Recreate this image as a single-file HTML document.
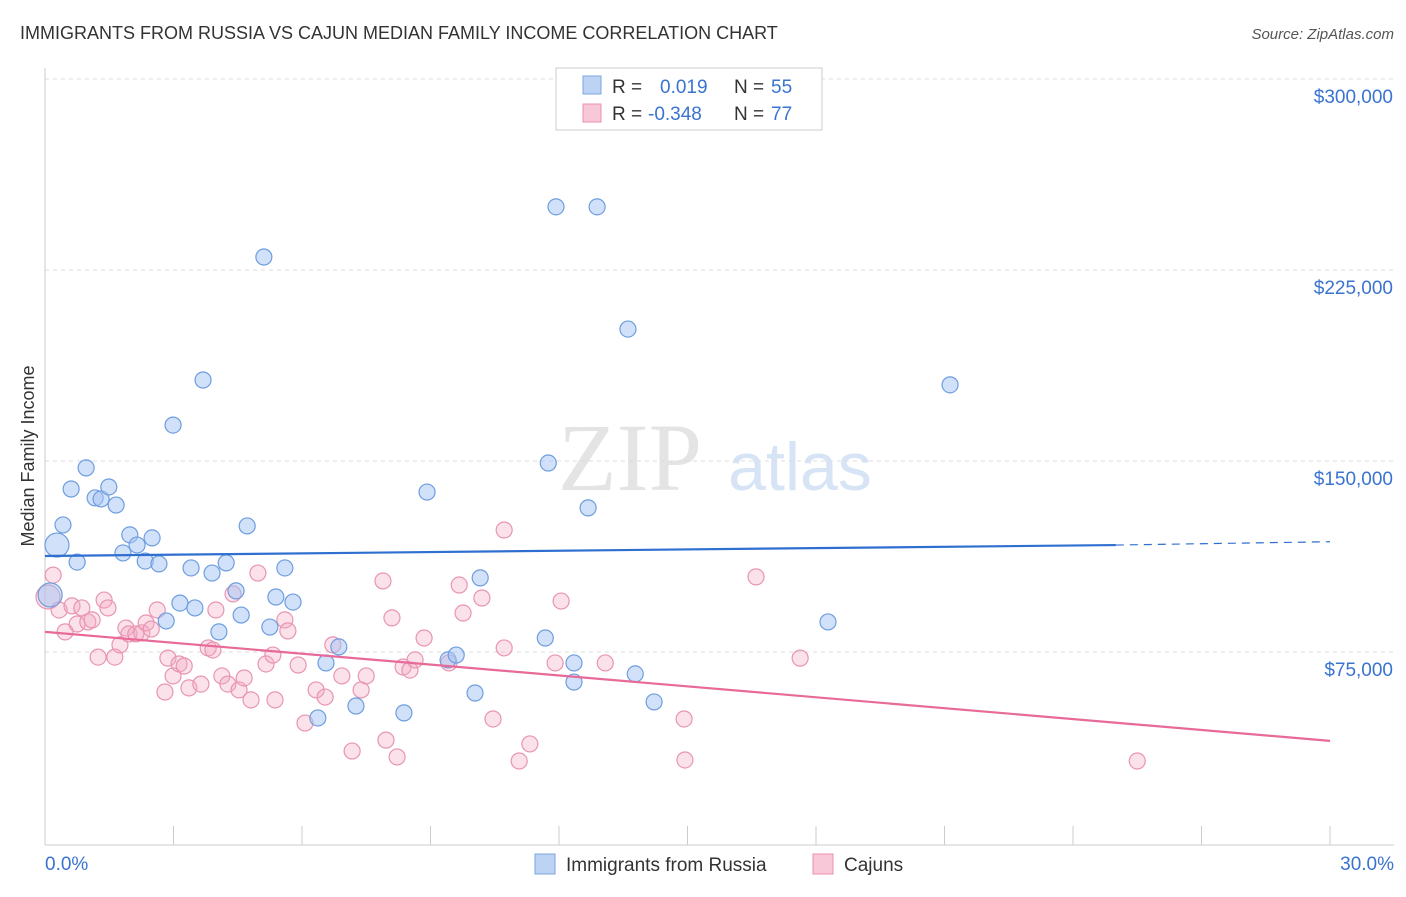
<!DOCTYPE html>
<html><head><meta charset="utf-8"><style>
body{margin:0;background:#fff;font-family:"Liberation Sans",sans-serif;}
</style></head><body>
<svg id="c" width="1406" height="892" xmlns="http://www.w3.org/2000/svg" style="font-family:'Liberation Sans',sans-serif">
<text x="20" y="39" font-size="18" fill="#333">IMMIGRANTS FROM RUSSIA VS CAJUN MEDIAN FAMILY INCOME CORRELATION CHART</text>
<text x="1394" y="39" font-size="15" fill="#555" text-anchor="end" font-style="italic">Source: ZipAtlas.com</text>
<text x="630" y="490" font-size="96" fill="#e4e4e4" font-family="Liberation Serif" text-anchor="middle">ZIP</text>
<text x="800" y="490" font-size="68" fill="#d6e4f6" text-anchor="middle">atlas</text>
<g id="grid"></g><g id="axes"></g><g id="marks"></g>
<text transform="translate(34,456) rotate(-90)" font-size="18" fill="#333" text-anchor="middle">Median Family Income</text>
<g>
<rect x="556" y="68" width="266" height="62" fill="#fff" stroke="#ccc"/>
<rect x="583" y="76" width="18" height="18" fill="#bcd3f4" stroke="#7ba4e0"/>
<text x="612" y="93" font-size="19" fill="#333">R = </text><text x="660" y="93" font-size="19" fill="#3a73d0">0.019</text>
<text x="734" y="93" font-size="19" fill="#333">N = </text><text x="771" y="93" font-size="19" fill="#3a73d0">55</text>
<rect x="583" y="104" width="18" height="18" fill="#f8c8d8" stroke="#e890ae"/>
<text x="612" y="120" font-size="19" fill="#333">R = </text><text x="648" y="120" font-size="19" fill="#3a73d0">-0.348</text>
<text x="734" y="120" font-size="19" fill="#333">N = </text><text x="771" y="120" font-size="19" fill="#3a73d0">77</text>
</g>
<g>
<rect x="535" y="854" width="20" height="20" fill="#bcd3f4" stroke="#7ba4e0"/>
<text x="566" y="871" font-size="19" fill="#333">Immigrants from Russia</text>
<rect x="813" y="854" width="20" height="20" fill="#f8c8d8" stroke="#e890ae"/>
<text x="844" y="871" font-size="19" fill="#333">Cajuns</text>
</g>
</svg>
<script>
const yTicks=[75000,150000,225000,300000];
const yTickLabels=["$75,000","$150,000","$225,000","$300,000"];
const xTicks=[0,3,6,9,12,15,18,21,24,27,30];
const bluePct=[0.12,0.28,0.42,0.61,0.75,0.96,1.17,1.31,1.49,1.66,1.82,1.98,2.15,2.34,2.50,2.66,2.83,2.99,3.15,3.41,3.50,3.69,3.90,4.06,4.23,4.46,4.58,4.72,5.11,5.25,5.39,5.60,5.79,6.37,6.56,6.86,7.26,8.38,8.92,9.41,9.60,10.04,10.16,11.68,11.75,11.93,12.35,12.35,12.68,12.89,13.61,13.78,14.22,18.28,21.13];
const blueVal=[97.4,117.0,124.9,139.0,110.3,147.3,135.5,135.1,139.8,132.7,113.9,121.0,117.0,110.7,119.8,109.6,87.2,164.1,94.2,108.0,92.3,181.8,106.0,82.9,110.0,99.0,89.5,124.5,230.1,84.8,96.6,108.0,94.6,49.1,70.7,77.0,53.8,51.1,137.8,71.9,73.8,58.9,104.1,80.5,149.2,249.8,70.7,63.2,131.6,249.8,201.8,66.4,55.4,86.8,179.9];
const pinkPct=[0.07,0.19,0.33,0.47,0.63,0.75,0.86,1.00,1.10,1.24,1.38,1.47,1.63,1.75,1.89,1.96,2.12,2.26,2.36,2.48,2.62,2.80,2.87,2.99,3.13,3.25,3.36,3.64,3.81,3.92,3.99,4.13,4.27,4.39,4.53,4.65,4.81,4.97,5.16,5.37,5.32,5.60,5.67,5.91,6.07,6.33,6.54,6.72,6.93,7.17,7.38,7.50,7.89,7.96,8.10,8.22,8.36,8.52,8.64,8.85,9.43,9.67,9.76,10.20,10.46,10.72,11.07,11.32,10.72,11.91,12.05,13.08,14.92,14.94,16.60,17.63,25.50];
const pinkVal=[96.6,105.2,91.5,82.9,93.1,86.0,92.3,86.8,87.6,73.0,95.4,92.3,73.0,77.8,84.4,82.1,82.1,82.5,86.4,84.0,91.5,59.3,72.6,65.6,70.3,69.5,60.9,62.4,76.6,75.8,91.5,65.6,62.4,97.8,60.1,64.8,56.2,106.0,70.3,56.2,73.8,87.6,83.3,69.9,47.1,60.1,57.3,77.8,65.6,36.1,60.1,65.6,102.9,40.4,88.4,33.8,69.1,67.9,71.9,80.5,70.7,101.3,90.3,96.2,48.7,76.6,32.2,38.9,122.9,70.7,95.0,70.7,48.7,32.6,104.5,72.6,32.2];
const blueTrend=[112.7,117.0,118.3]; // at 0%, 25%, 30%
const pinkTrend=[82.9,40.1]; // at 0%, 30%
const NS="http://www.w3.org/2000/svg";
const X=p=>45+p/30*1285;
const Y=v=>843-v/300000*764;
const YK=v=>Y(v*1000);
function mk(t,a,parent){const e=document.createElementNS(NS,t);for(const k in a)e.setAttribute(k,a[k]);document.getElementById(parent).appendChild(e);return e;}
yTicks.forEach((t,i)=>{
 const g=mk('line',{x1:45,x2:1394,y1:Y(t),y2:Y(t),stroke:'#ddd','stroke-dasharray':'4,4'},'grid');
 
 
 const l=mk('text',{x:1393,y:Y(t)+24,'font-size':19,fill:'#3a73d0','text-anchor':'end'},'axes');
 l.textContent=yTickLabels[i];
 
 
});
const ax=mk('line',{x1:45,x2:1394,y1:845,y2:845,stroke:'#ccc'},'axes');


const ay=mk('line',{x1:45,x2:45,y1:68,y2:845,stroke:'#ccc'},'axes');


xTicks.forEach(t=>{const e=mk('line',{x1:X(t),x2:X(t),y1:826,y2:845,stroke:'#ccc'},'axes');
 
 });
const x0=mk('text',{x:45,y:870,'font-size':19,fill:'#3a73d0'},'axes');x0.textContent='0.0%';


const x1=mk('text',{x:1394,y:870,'font-size':19,fill:'#3a73d0','text-anchor':'end'},'axes');x1.textContent='30.0%';


pinkPct.forEach((p,i)=>{const c=mk('circle',{cx:X(p),cy:YK(pinkVal[i]),r:i==0?12:8,fill:'rgba(244,168,195,0.35)',stroke:'#e895b2','stroke-width':1.2},'marks');
 
 });
bluePct.forEach((p,i)=>{const c=mk('circle',{cx:X(p),cy:YK(blueVal[i]),r:i<2?12:8,fill:'rgba(164,196,244,0.5)',stroke:'#6e9ddf','stroke-width':1.2},'marks');
 
 });
const bl=mk('line',{x1:X(0),y1:YK(blueTrend[0]),x2:X(25),y2:YK(blueTrend[1]),stroke:'#2f6fd0','stroke-width':2.2},'marks');


const bd=mk('line',{x1:X(25),y1:YK(blueTrend[1]),x2:X(30),y2:YK(blueTrend[2]),stroke:'#2f6fd0','stroke-width':1.2,'stroke-dasharray':'8,6'},'marks');


const pl=mk('line',{x1:X(0),y1:YK(pinkTrend[0]),x2:X(30),y2:YK(pinkTrend[1]),stroke:'#e86a98','stroke-width':2.2},'marks');


</script>
</body></html>
